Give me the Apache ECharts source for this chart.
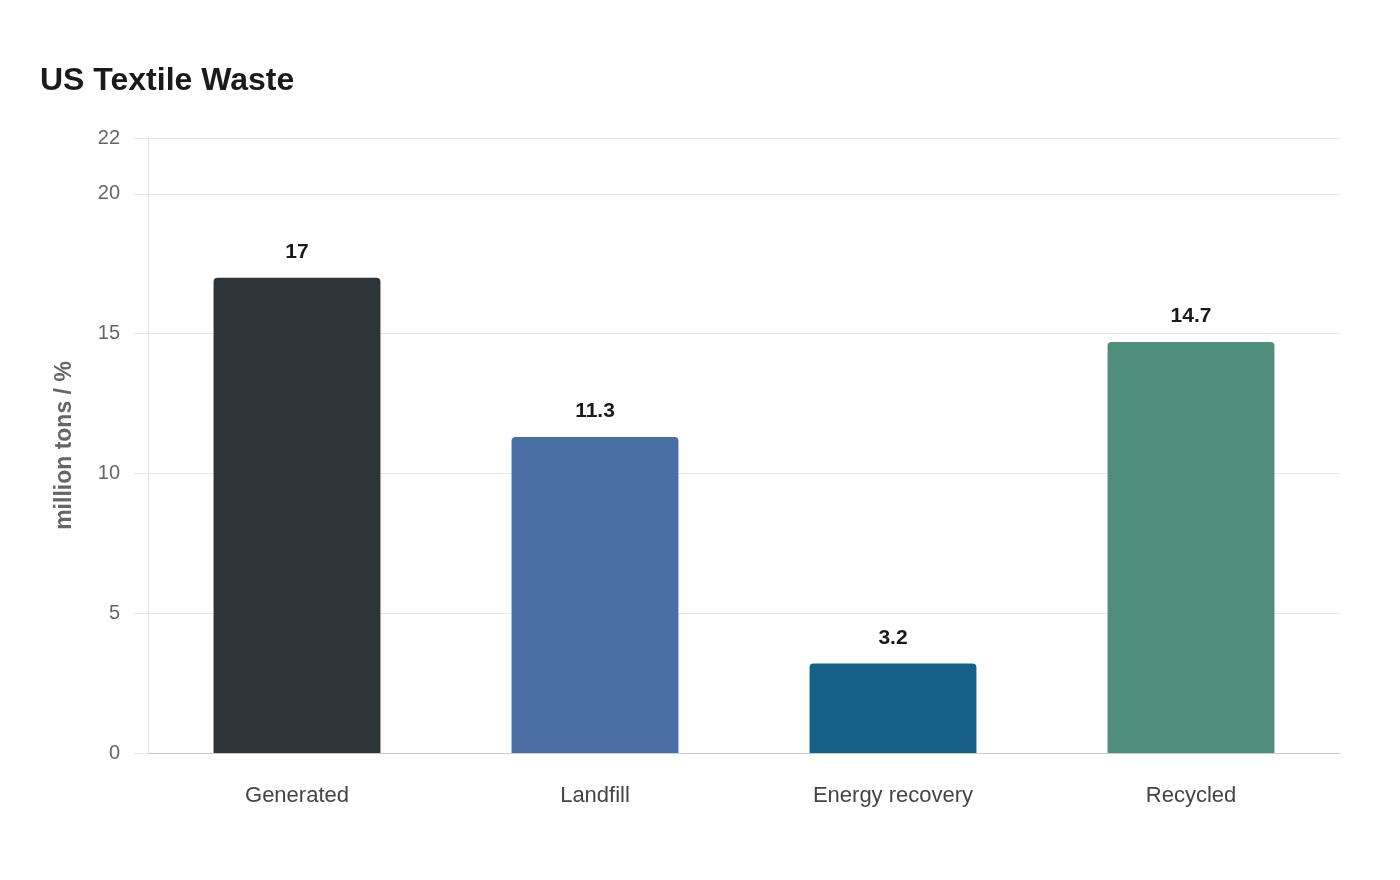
<!DOCTYPE html>
<html>
<head>
<meta charset="utf-8">
<script src="https://cdn.jsdelivr.net/npm/echarts@6/dist/echarts.min.js"></script>
<style>
  html, body { margin: 0; padding: 0; background: #fff; }
  #chart { width: 1400px; height: 880px; }
</style>
</head>
<body>
<div id="chart"></div>
<script>
const categories = ["Generated", "Landfill", "Energy recovery", "Recycled"];
const values = [17, 11.3, 3.2, 14.7];
const barColors = ["#2d3538", "#4a6fa5", "#166088", "#4f8e7b"];

const chart = echarts.init(document.getElementById("chart"));
const option = {
  backgroundColor: "#ffffff",
  textStyle: { fontFamily: "Liberation Sans, Arial, sans-serif" },
  title: {
    text: "US Textile Waste",
    left: 35,
    top: 60,
    textStyle: { fontSize: 32, fontWeight: "bold", color: "#1a1a1a" },
  },
  grid: { left: 148, right: 60, top: 138, bottom: 127 },
  xAxis: {
    type: "category",
    data: categories,
    axisLine: { lineStyle: { color: "#cccccc", width: 1 } },
    axisTick: { show: false },
    axisLabel: { color: "#444444", fontSize: 22, margin: 32 },
  },
  yAxis: {
    type: "value",
    min: 0,
    max: 22,
    interval: 5,
    name: "million tons / %",
    nameLocation: "middle",
    nameGap: 72,
    nameTextStyle: { color: "#666666", fontSize: 23, fontWeight: "bold" },
    axisLine: { show: true, lineStyle: { color: "#e4e4e4", width: 1 } },
    axisTick: { show: true, length: 15, lineStyle: { color: "#e8e8e8" } },
    axisLabel: { color: "#666666", fontSize: 20, margin: 28 },
    splitLine: { lineStyle: { color: "#e8e8e8", width: 1 } },
  },
  series: [
    {
      type: "bar",
      barWidth: "56%",
      data: values.map((v, i) => ({ value: v, itemStyle: { color: barColors[i] } })),
      itemStyle: { borderRadius: [4, 4, 0, 0] },
      label: {
        show: true,
        position: "top",
        distance: 15,
        color: "#1a1a1a",
        fontSize: 21,
        fontWeight: "bold",
      },
    },
  ],
};
chart.setOption(option);
</script>
</body>
</html>
